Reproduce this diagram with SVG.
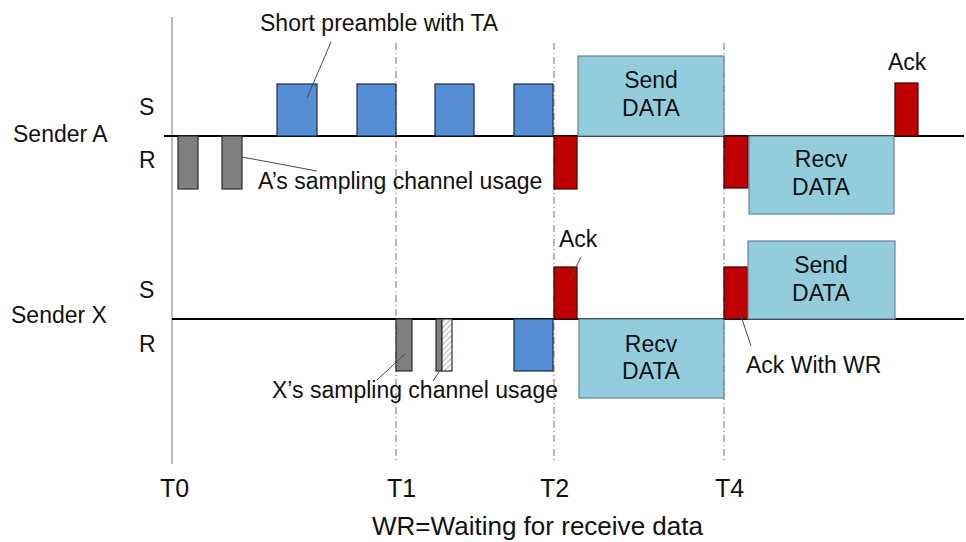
<svg xmlns="http://www.w3.org/2000/svg" width="966" height="542" viewBox="0 0 966 542">
<defs>
<pattern id="hatch" width="4" height="4" patternUnits="userSpaceOnUse" patternTransform="rotate(45)">
<rect width="4" height="4" fill="#ffffff"/>
<line x1="0" y1="0" x2="0" y2="4" stroke="#8fa3bf" stroke-width="1.6"/>
</pattern>
</defs>
<style>
text{font-family:"Liberation Sans",Arial,sans-serif;font-size:23px;fill:#111}
.c{text-anchor:middle}
.t{font-size:25px}
.blue{fill:#558ed5;stroke:#1c2a44;stroke-width:1.2}
.red{fill:#c00000;stroke:#3a0000;stroke-width:1.2}
.gray{fill:#7f7f7f;stroke:#2b2b2b;stroke-width:1.2}
.box{fill:#93cddd;stroke:#5f8791;stroke-width:1.2}
.axis{stroke:#000;stroke-width:1.8}
.vline{stroke:#8a8a8a;stroke-width:1.2}
.dash{stroke:#8a8a8a;stroke-width:1.2;stroke-dasharray:7,3,1,3}
.lead{stroke:#4a4a4a;stroke-width:1;fill:none}
</style>

<g id="axes">
<line class="vline" x1="172" y1="17" x2="172" y2="464"/>
<line class="dash" x1="396" y1="43" x2="396" y2="462"/>
<line class="dash" x1="554" y1="43" x2="554" y2="462"/>
<line class="dash" x1="724" y1="43" x2="724" y2="462"/>
<line class="axis" x1="164" y1="136" x2="964" y2="136"/>
<line class="axis" x1="172" y1="319" x2="964" y2="319"/>
</g>

<g id="labels">
<text x="13" y="142">Sender A</text>
<text x="139" y="115">S</text>
<text x="139" y="168">R</text>
<text x="11" y="323">Sender X</text>
<text x="139" y="298">S</text>
<text x="139" y="352">R</text>
<text class="t" x="160" y="497">T0</text>
<text class="t" x="387" y="497">T1</text>
<text class="t" x="540" y="497">T2</text>
<text class="t" x="715" y="497">T4</text>
<text x="372" y="535" style="font-size:25px" textLength="331" lengthAdjust="spacingAndGlyphs">WR=Waiting for receive data</text>
</g>

<g id="senderA-sampling">
<rect class="gray" x="178" y="136" width="20" height="53"/>
<rect class="gray" x="222" y="136" width="20" height="53"/>
</g>

<g id="senderA-preambles">
<rect class="blue" x="277" y="84" width="40" height="52"/>
<rect class="blue" x="357" y="84" width="39" height="52"/>
<rect class="blue" x="435" y="84" width="39" height="52"/>
<rect class="blue" x="514" y="84" width="39" height="52"/>
</g>

<g id="senderA-ack-recv-T2">
<rect class="red" x="554" y="136" width="23" height="53"/>
</g>

<g id="senderA-send-data">
<rect class="box" x="578" y="56" width="146" height="80"/>
<text class="c" x="651" y="88">Send</text>
<text class="c" x="651" y="116">DATA</text>
</g>

<g id="senderA-ack-recv-T4">
<rect class="red" x="724" y="136" width="24" height="52"/>
</g>

<g id="senderA-recv-data">
<rect class="box" x="749" y="136" width="145" height="78"/>
<text class="c" x="821" y="167">Recv</text>
<text class="c" x="821" y="195">DATA</text>
</g>

<g id="senderA-ack">
<rect class="red" x="895" y="83" width="23" height="53"/>
<text x="888" y="70">Ack</text>
</g>

<g id="senderX-sampling">
<rect class="gray" x="396" y="319" width="16" height="52"/>
<rect class="gray" x="436" y="319" width="6" height="52"/>
<rect x="442" y="319" width="10" height="52" fill="url(#hatch)" stroke="#2b2b2b" stroke-width="1.2"/>
</g>

<g id="senderX-preamble-recv">
<rect class="blue" x="514" y="319" width="39" height="52"/>
</g>

<g id="senderX-ack-T2">
<rect class="red" x="554" y="267" width="23" height="52"/>
<text x="559" y="247">Ack</text>
</g>

<g id="senderX-recv-data">
<rect class="box" x="579" y="319" width="145" height="79"/>
<text class="c" x="651" y="352">Recv</text>
<text class="c" x="651" y="379">DATA</text>
</g>

<g id="senderX-ack-wr">
<rect class="red" x="724" y="267" width="24" height="52"/>
<text x="746" y="373">Ack With WR</text>
</g>

<g id="senderX-send-data">
<rect class="box" x="748" y="241" width="147" height="78"/>
<text class="c" x="821" y="273">Send</text>
<text class="c" x="821" y="301">DATA</text>
</g>

<g id="annotations">
<text x="260" y="31">Short preamble with TA</text>
<text x="258" y="189">A’s sampling channel usage</text>
<text x="272" y="398">X’s sampling channel usage</text>
</g>

<g id="connectors">
<line class="lead" x1="331" y1="42" x2="307" y2="98"/>
<line class="lead" x1="242" y1="157" x2="317" y2="171"/>
<line class="lead" x1="377" y1="380" x2="405" y2="354"/>
<line class="lead" x1="433" y1="381" x2="441" y2="369"/>
<line class="lead" x1="581" y1="257" x2="569" y2="281"/>
<line class="lead" x1="751" y1="346" x2="739" y2="310"/>
</g>
</svg>
